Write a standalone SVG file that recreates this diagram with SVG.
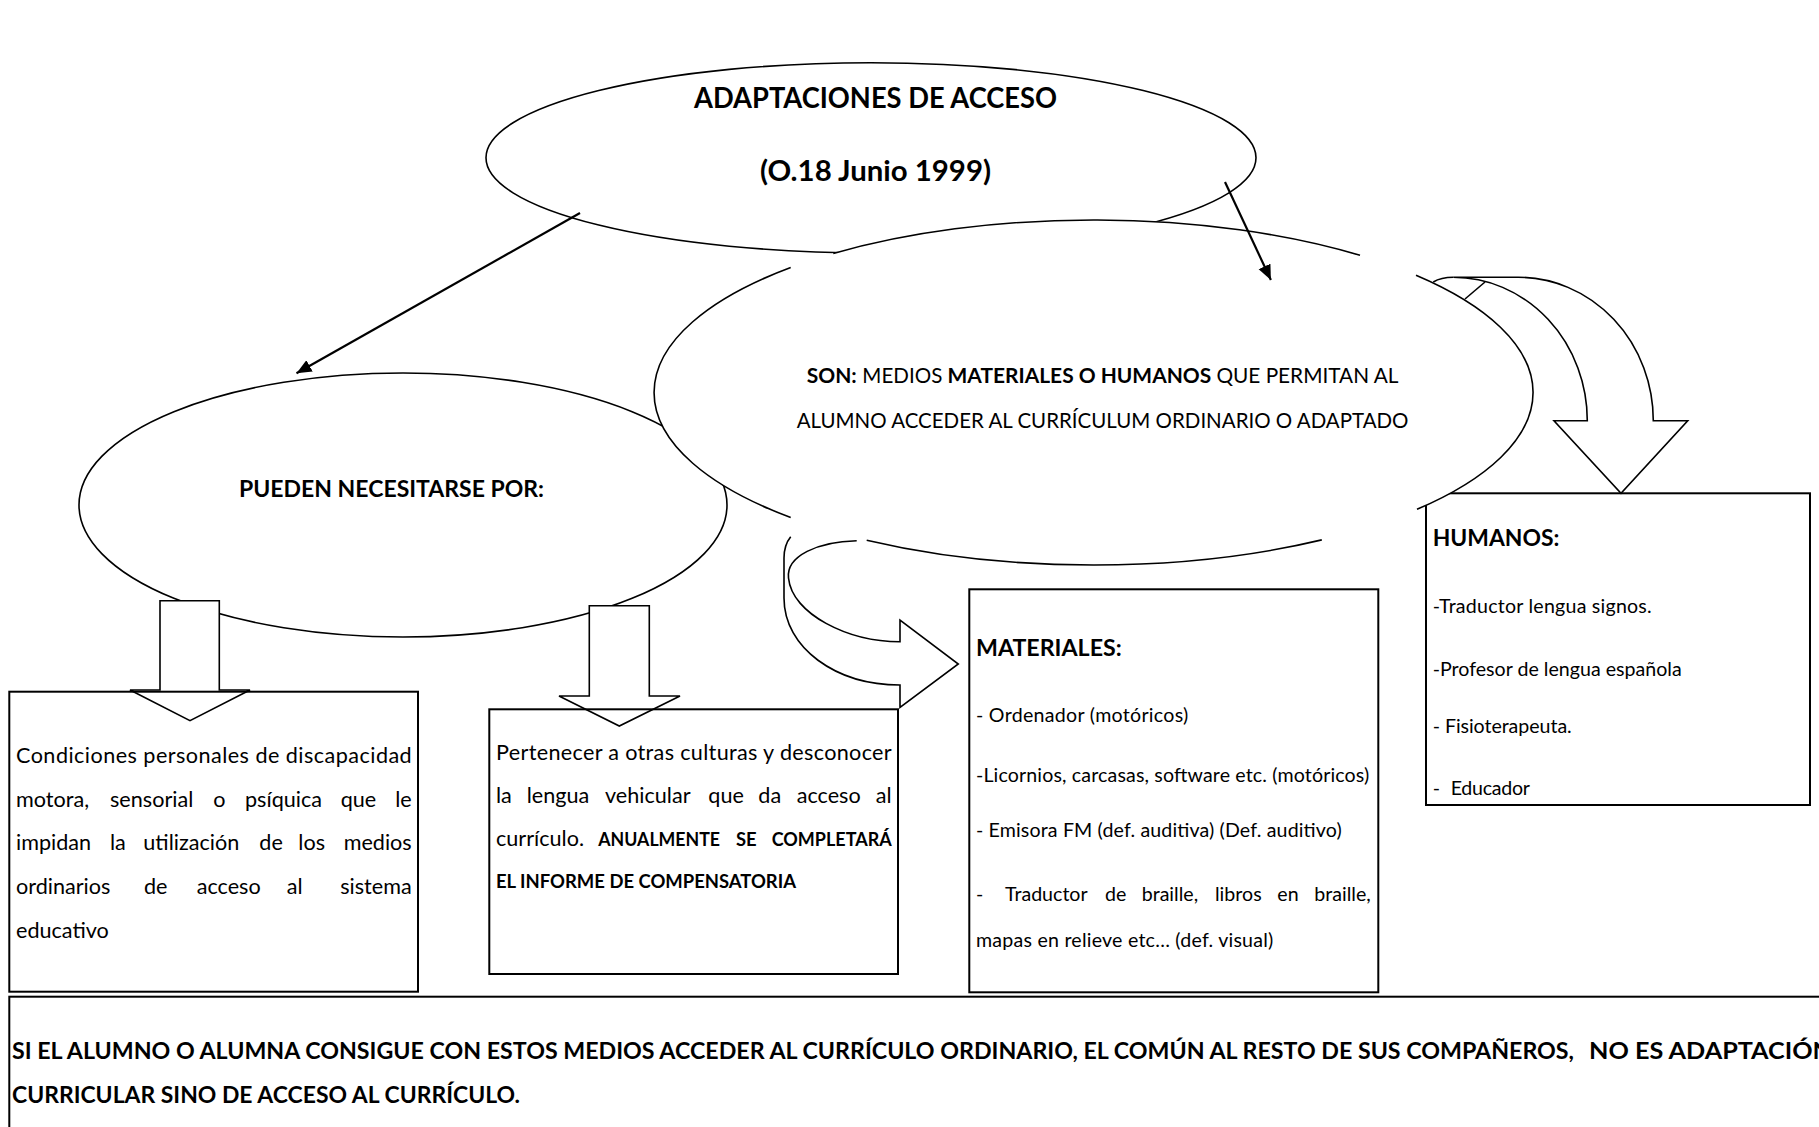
<svg xmlns="http://www.w3.org/2000/svg" width="1819" height="1127" viewBox="0 0 1819 1127">
<style>
text{font-family:Lato,"Open Sans","DejaVu Sans",sans-serif;fill:#000}
.b{font-weight:700}
.s11{font-size:21.6px}
.s10{font-size:19.6px}
.s12{font-size:23.6px}
.bx{fill:none;stroke:#000;stroke-width:2}
.el{fill:#fff;stroke:#000;stroke-width:1.6}
.ln{fill:none;stroke:#000;stroke-width:1.6}
.sh{fill:#fff;stroke:#000;stroke-width:1.6;stroke-linejoin:miter}
.cn{fill:none;stroke:#000;stroke-width:2.2}
</style>
<defs>
<marker id="ah" markerUnits="userSpaceOnUse" markerWidth="16" markerHeight="14" refX="15" refY="6.5" orient="auto">
<path d="M0,0 L15,6.5 L0,13 Z" fill="#000"/>
</marker>
</defs>
<rect x="0" y="0" width="1819" height="1127" fill="#fff"/>

<g id="node-top">
<ellipse class="el" cx="871" cy="157.8" rx="385" ry="95.1"/>
<text class="b" x="694" y="108" font-size="29" textLength="363" lengthAdjust="spacingAndGlyphs">ADAPTACIONES DE ACCESO</text>
<text class="b" x="760" y="181" font-size="29" textLength="231" lengthAdjust="spacingAndGlyphs">(O.18 Junio 1999)</text>
</g>

<g id="node-left">
<ellipse class="el" cx="403" cy="505" rx="324" ry="132"/>
<text class="b s12" x="239" y="496.7" textLength="305" lengthAdjust="spacingAndGlyphs">PUEDEN NECESITARSE POR:</text>
</g>

<g id="node-humanos">
<rect class="bx" x="1426" y="493.3" width="384" height="311.7"/>
<text class="b s12" x="1432.7" y="546" textLength="126.7" lengthAdjust="spacingAndGlyphs">HUMANOS:</text>
<text class="s10" x="1432.7" y="612.5" textLength="219" lengthAdjust="spacing">-Traductor lengua signos.</text>
<text class="s10" x="1432.7" y="675.5" textLength="249" lengthAdjust="spacing">-Profesor de lengua española</text>
<text class="s10" x="1432.7" y="733" textLength="139" lengthAdjust="spacing">- Fisioterapeuta.</text>
<text class="s10" x="1432.7" y="795">-</text>
<text class="s10" x="1450.7" y="795" textLength="79.3" lengthAdjust="spacing">Educador</text>
</g>

<g id="node-middle">
<ellipse cx="1093.5" cy="392.5" rx="439.5" ry="172.5" fill="#fff"/>
<path class="ln" d="M833.3,253.5 A439.5,172.5 0 0 1 1360,255.3"/>
<path class="ln" d="M1416,275.3 A439.5,172.5 0 0 1 1417,509.3"/>
<path class="ln" d="M1321.8,539.9 A439.5,172.5 0 0 1 866.7,540.3"/>
<path class="ln" d="M790.7,517.5 A439.5,172.5 0 0 1 790.7,267.5"/>
<text class="b s11" x="806.7" y="383.3" textLength="50" lengthAdjust="spacingAndGlyphs">SON:</text>
<text class="s11" x="862.3" y="383.3" textLength="80" lengthAdjust="spacingAndGlyphs">MEDIOS</text>
<text class="b s11" x="947.6" y="383.3" textLength="263.6" lengthAdjust="spacingAndGlyphs">MATERIALES O HUMANOS</text>
<text class="s11" x="1216.4" y="383.3" textLength="182" lengthAdjust="spacingAndGlyphs">QUE PERMITAN AL</text>
<text class="s11" x="796.7" y="427.7" textLength="611.8" lengthAdjust="spacingAndGlyphs">ALUMNO ACCEDER AL CURRÍCULUM ORDINARIO O ADAPTADO</text>
</g>

<g id="connectors">
<path class="sh" d="M160,600.7 L219.3,600.7 L219.3,690 L250,690 L190,720.7 L130,690 L160,690 Z"/>
<path class="sh" d="M589.3,605.7 L649.3,605.7 L649.3,696 L680,696 L619.3,726 L559,696 L589.3,696 Z"/>
<path class="sh" d="M790.7,536.7 Q784,545 784,558 L784,598 C784,648 836,685 900,685 L900,707.3 L958.3,664 L900,620 L900,641.7 C848,641.7 792,614 788.5,578 C786,556 818,541.5 856.7,540.7"/>
<path class="sh" d="M1453.3,277.3 L1518.3,277.3 A135,143.4 0 0 1 1653.3,420.7 L1687.7,420.7 L1621,493.3 L1554,420.7 L1587.3,420.7 A134,143.4 0 0 0 1453.3,277.3 Z"/>
<path class="ln" d="M1433.3,282 Q1441,277.3 1453.3,277.3"/>
<path class="ln" d="M1485,282 L1465,299"/>
<path class="cn" d="M580,213 L296.5,373.3" marker-end="url(#ah)"/>
<path class="cn" d="M1225,182 L1270.9,280" marker-end="url(#ah)"/>
</g>

<g id="node-box1">
<rect class="bx" x="9.3" y="691.7" width="408.7" height="300"/>
<g class="s11">
<text x="16" y="763.3" textLength="395.7" lengthAdjust="spacing">Condiciones personales de discapacidad</text>
<text x="16" y="806.7">motora,</text>
<text x="110" y="806.7">sensorial</text>
<text x="213.3" y="806.7">o</text>
<text x="245" y="806.7">psíquica</text>
<text x="340.7" y="806.7">que</text>
<text x="411.7" y="806.7" text-anchor="end">le</text>
<text x="16" y="850">impidan</text>
<text x="110" y="850">la</text>
<text x="143.3" y="850">utilización</text>
<text x="259.3" y="850">de</text>
<text x="298.3" y="850">los</text>
<text x="411.7" y="850" text-anchor="end">medios</text>
<text x="16" y="894">ordinarios</text>
<text x="144" y="894">de</text>
<text x="196.7" y="894">acceso</text>
<text x="286.7" y="894">al</text>
<text x="411.7" y="894" text-anchor="end">sistema</text>
<text x="16" y="938.3">educativo</text>
</g>
</g>

<g id="node-box2">
<rect class="bx" x="489.3" y="709.3" width="408.7" height="264.7"/>
<g class="s11">
<text x="496" y="760" textLength="395.7" lengthAdjust="spacing">Pertenecer a otras culturas y desconocer</text>
<text x="496" y="803.3">la</text>
<text x="526.7" y="803.3">lengua</text>
<text x="605" y="803.3">vehicular</text>
<text x="708.3" y="803.3">que</text>
<text x="758.3" y="803.3">da</text>
<text x="796.7" y="803.3">acceso</text>
<text x="891.7" y="803.3" text-anchor="end">al</text>
<text x="496" y="846">currículo.</text>
</g>
<text class="b" font-size="18.5" x="598.3" y="846" textLength="121.7" lengthAdjust="spacingAndGlyphs">ANUALMENTE</text>
<text class="b" font-size="18.5" x="736" y="846" textLength="20.7" lengthAdjust="spacingAndGlyphs">SE</text>
<text class="b" font-size="18.5" x="771.7" y="846" textLength="120" lengthAdjust="spacingAndGlyphs">COMPLETARÁ</text>
<text class="b" font-size="18.5" x="496" y="888.3" textLength="300" lengthAdjust="spacingAndGlyphs">EL INFORME DE COMPENSATORIA</text>
</g>

<g id="node-materials">
<rect class="bx" x="969.3" y="589.3" width="409" height="403"/>
<text class="b s12" x="976" y="656" textLength="145.7" lengthAdjust="spacingAndGlyphs">MATERIALES:</text>
<g class="s10">
<text x="976" y="721.7" textLength="212.3" lengthAdjust="spacing">- Ordenador (motóricos)</text>
<text x="976" y="781.7" textLength="393.3" lengthAdjust="spacing">-Licornios, carcasas, software etc. (motóricos)</text>
<text x="976" y="836.7" textLength="365.7" lengthAdjust="spacing">- Emisora FM (def. auditiva) (Def. auditivo)</text>
<text x="976" y="900.7">-</text>
<text x="1005" y="900.7">Traductor</text>
<text x="1105" y="900.7">de</text>
<text x="1141.7" y="900.7">braille,</text>
<text x="1215" y="900.7">libros</text>
<text x="1277.3" y="900.7">en</text>
<text x="1370.7" y="900.7" text-anchor="end">braille,</text>
<text x="976" y="947" textLength="297.3" lengthAdjust="spacing">mapas en relieve etc… (def. visual)</text>
</g>
</g>

<g id="node-bottom">
<rect class="bx" x="9.3" y="996.7" width="1830" height="150"/>
<text class="b s12" x="12" y="1059" textLength="1562" lengthAdjust="spacingAndGlyphs">SI EL ALUMNO O ALUMNA CONSIGUE CON ESTOS MEDIOS ACCEDER AL CURRÍCULO ORDINARIO, EL COMÚN AL RESTO DE SUS COMPAÑEROS,</text>
<text class="b s12" x="1589" y="1059" textLength="243" lengthAdjust="spacingAndGlyphs">NO ES ADAPTACIÓN</text>
<text class="b s12" x="12" y="1103" textLength="508" lengthAdjust="spacingAndGlyphs">CURRICULAR SINO DE ACCESO AL CURRÍCULO.</text>
</g>
</svg>
